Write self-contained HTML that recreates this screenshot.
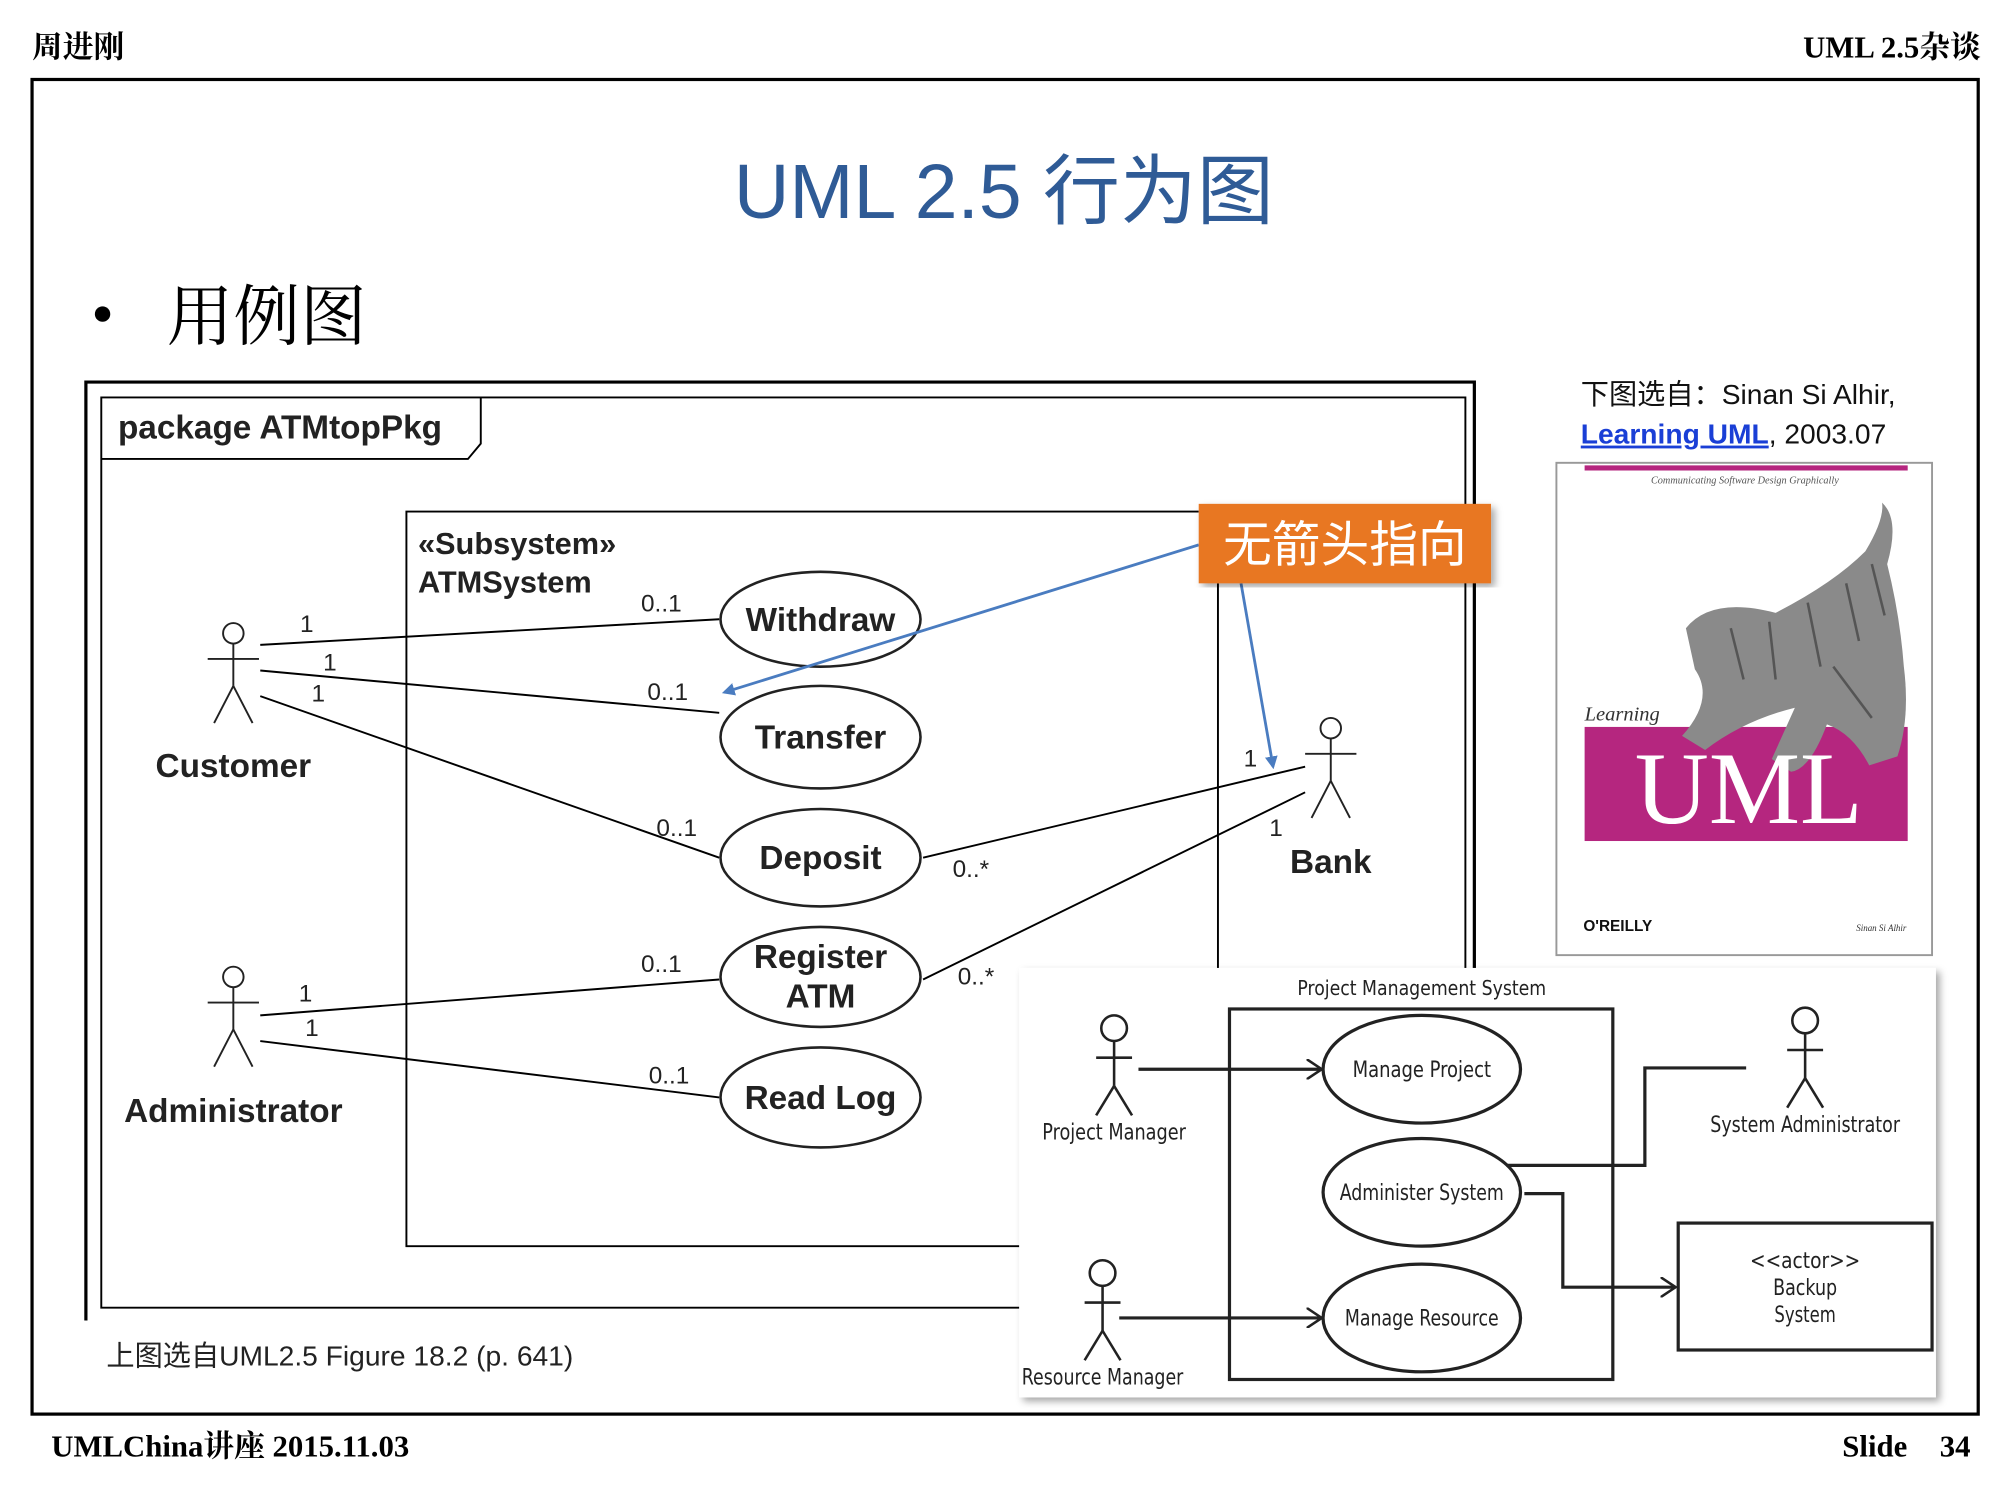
<!DOCTYPE html>
<html><head><meta charset="utf-8"><style>html,body{margin:0;padding:0;background:#fff}svg{display:block}</style></head>
<body>
<svg width="2000" height="1500" viewBox="0 0 1560 1170" xmlns="http://www.w3.org/2000/svg" font-family="Liberation Sans, Noto Sans CJK SC, sans-serif">
<defs>
<marker id="ba" markerWidth="10" markerHeight="10" refX="8" refY="5" orient="auto" markerUnits="userSpaceOnUse"><path d="M0,0 L10,5 L0,10 Z" fill="#4a7cc0"/></marker>
<marker id="oa" markerWidth="14" markerHeight="16" refX="12" refY="8" orient="auto" markerUnits="userSpaceOnUse"><path d="M0,0 L12,8 L0,16" fill="none" stroke="#222" stroke-width="2"/></marker>
<filter id="sh" x="-5%" y="-5%" width="110%" height="110%"><feDropShadow dx="3" dy="3" stdDeviation="3" flood-color="#000" flood-opacity="0.35"/></filter>
</defs>
<g font-family="Liberation Serif, Noto Serif CJK SC, serif" font-weight="bold" font-size="24" fill="#000">
<text x="25" y="45">周进刚</text>
<text x="1545" y="45" text-anchor="end">UML 2.5杂谈</text>
<text x="40" y="1136">UMLChina讲座 2015.11.03</text>
<text x="1437" y="1136">Slide</text>
<text x="1537" y="1136" text-anchor="end">34</text>
</g>
<rect x="25" y="62" width="1518" height="1041" fill="none" stroke="#000" stroke-width="2.5"/>
<text x="783" y="170" text-anchor="middle" font-size="60" fill="#2f5b96">UML 2.5 行为图</text>
<circle cx="80" cy="245" r="6" fill="#000"/>
<text x="130" y="265" font-size="52" font-family="Liberation Serif, Noto Serif CJK SC, serif">用例图</text>

<path d="M67,1030 L67,298 L1150,298 L1150,755" fill="none" stroke="#000" stroke-width="2.5"/>
<path d="M795,1020 L79,1020 L79,310 L1143,310 L1143,755" fill="none" stroke="#000" stroke-width="1.5"/>
<path d="M79,358 L365,358 L375,346 L375,310" fill="none" stroke="#000" stroke-width="1.5"/>
<text x="92" y="342" font-size="26" font-weight="bold" fill="#222">package ATMtopPkg</text>
<path d="M935,399 L317,399 L317,972 L795,972" fill="none" stroke="#000" stroke-width="1.5"/>
<line x1="950" y1="455" x2="950" y2="755" stroke="#000" stroke-width="1.5"/>
<text x="326" y="432" font-size="24" font-weight="bold" fill="#222">«Subsystem»</text>
<text x="326" y="462" font-size="24" font-weight="bold" fill="#222">ATMSystem</text>

<g fill="none" stroke="#000" stroke-width="1.5">
<line x1="203" y1="503" x2="561" y2="483"/>
<line x1="203" y1="523" x2="561" y2="556"/>
<line x1="203" y1="543" x2="561" y2="669"/>
<line x1="203" y1="792" x2="561" y2="764"/>
<line x1="203" y1="812" x2="561" y2="856"/>
<line x1="720" y1="669" x2="1018" y2="598"/>
<line x1="720" y1="764" x2="1018" y2="618"/>
</g>
<g fill="#fff" stroke="#222" stroke-width="2"><ellipse cx="640" cy="483" rx="78" ry="37"/><ellipse cx="640" cy="575" rx="78" ry="40"/><ellipse cx="640" cy="669" rx="78" ry="38"/><ellipse cx="640" cy="762" rx="78" ry="39"/><ellipse cx="640" cy="856" rx="78" ry="39"/></g>
<g font-size="26" font-weight="bold" text-anchor="middle" fill="#222">
<text x="640" y="492">Withdraw</text>
<text x="640" y="584">Transfer</text>
<text x="640" y="678">Deposit</text>
<text x="640" y="755">Register</text>
<text x="640" y="786">ATM</text>
<text x="640" y="865">Read Log</text>
<text x="182" y="606">Customer</text>
<text x="182" y="875">Administrator</text>
<text x="1038" y="681">Bank</text>
</g>
<g font-size="19" fill="#222">
<text x="234" y="493">1</text><text x="252" y="523">1</text><text x="243" y="547">1</text>
<text x="500" y="477">0..1</text><text x="505" y="546">0..1</text><text x="512" y="652">0..1</text>
<text x="500" y="758">0..1</text><text x="506" y="845">0..1</text>
<text x="233" y="781">1</text><text x="238" y="808">1</text>
<text x="743" y="684">0..*</text><text x="747" y="768">0..*</text>
<text x="970" y="598">1</text><text x="990" y="652">1</text>
</g>
<g fill="none" stroke="#222" stroke-width="1.5">
<g transform="translate(182,490)"><circle cx="0" cy="4" r="8"/><line x1="0" y1="12" x2="0" y2="45"/><line x1="-20" y1="24" x2="20" y2="24"/><line x1="0" y1="45" x2="-15" y2="74"/><line x1="0" y1="45" x2="15" y2="74"/></g>
<g transform="translate(182,758)"><circle cx="0" cy="4" r="8"/><line x1="0" y1="12" x2="0" y2="45"/><line x1="-20" y1="24" x2="20" y2="24"/><line x1="0" y1="45" x2="-15" y2="74"/><line x1="0" y1="45" x2="15" y2="74"/></g>
<g transform="translate(1038,564)"><circle cx="0" cy="4" r="8"/><line x1="0" y1="12" x2="0" y2="45"/><line x1="-20" y1="24" x2="20" y2="24"/><line x1="0" y1="45" x2="-15" y2="74"/><line x1="0" y1="45" x2="15" y2="74"/></g>
</g>
<line x1="935" y1="425" x2="565" y2="540" stroke="#4a7cc0" stroke-width="2.2" marker-end="url(#ba)"/>
<line x1="968" y1="455" x2="993" y2="598" stroke="#4a7cc0" stroke-width="2.2" marker-end="url(#ba)"/>
<rect x="935" y="393" width="228" height="62" fill="#e87722" filter="url(#sh)"/>
<text x="1049" y="438" text-anchor="middle" font-size="38" fill="#fff">无箭头指向</text>

<text x="83" y="1065" font-size="22" fill="#222">上图选自UML2.5 Figure 18.2 (p. 641)</text>
<text x="1233" y="315" font-size="22" fill="#111">下图选自：Sinan Si Alhir,</text>
<text x="1233" y="346" font-size="22" fill="#111"><tspan fill="#1a3fd6" font-weight="bold" text-decoration="underline">Learning UML</tspan>, 2003.07</text>

<rect x="1214" y="361" width="293" height="384" fill="#fff" stroke="#999" stroke-width="1.5"/>
<rect x="1236" y="363" width="252" height="4" fill="#b5267f"/>
<text x="1361" y="377" text-anchor="middle" font-size="8" font-style="italic" font-family="Liberation Serif, serif" fill="#555">Communicating Software Design Graphically</text>
<rect x="1236" y="567" width="252" height="89" fill="#b5267f"/>
<path d="M1315,490 Q1335,465 1385,478 Q1430,455 1455,430 Q1470,405 1468,392 Q1482,405 1472,440 Q1482,480 1485,520 Q1490,560 1480,590 L1458,597 Q1445,572 1425,565 Q1412,600 1397,602 L1382,592 L1400,552 Q1360,562 1330,585 L1312,574 Q1338,545 1322,522 Z" fill="#8a8a8a"/>
<g stroke="#333" stroke-width="2" fill="none" opacity="0.6">
<path d="M1350,490 L1360,530"/><path d="M1380,485 L1385,530"/><path d="M1410,470 L1420,520"/><path d="M1440,455 L1450,500"/><path d="M1460,440 L1470,480"/><path d="M1430,520 L1460,560"/>
</g>
<text x="1236" y="562" font-size="16" font-style="italic" font-family="Liberation Serif, serif" fill="#333">Learning</text>
<text x="1364" y="642" text-anchor="middle" font-size="80" font-family="Liberation Serif, serif" fill="#fff">UML</text>
<text x="1235" y="726" font-size="12" font-weight="bold" fill="#111">O'REILLY</text>
<text x="1487" y="726" text-anchor="end" font-size="7" font-style="italic" font-family="Liberation Serif, serif" fill="#333">Sinan Si Alhir</text>

<rect x="795" y="755" width="715" height="335" fill="#fff" filter="url(#sh)"/>
<g font-family="DejaVu Sans Condensed, Liberation Sans Narrow, Liberation Sans, sans-serif" font-size="16" fill="#222" text-anchor="middle">
<text x="1109" y="776" textLength="194" lengthAdjust="spacingAndGlyphs">Project Management System</text>
</g>
<g fill="none" stroke="#222" stroke-width="2.5">
<rect x="959" y="787" width="299" height="289"/>
<rect x="1309" y="954" width="198" height="99"/>
</g>
<g fill="#fff" stroke="#222" stroke-width="2.5">
<ellipse cx="1109" cy="834" rx="77" ry="42"/>
<ellipse cx="1109" cy="930" rx="77" ry="42"/>
<ellipse cx="1109" cy="1028" rx="77" ry="42"/>
</g>
<g fill="none" stroke="#222" stroke-width="2.5">
<line x1="888" y1="834" x2="1031" y2="834" marker-end="url(#oa)"/>
<line x1="873" y1="1028" x2="1031" y2="1028" marker-end="url(#oa)"/>
<path d="M1175,909 L1283,909 L1283,833 L1362,833"/>
<path d="M1189,931 L1219,931 L1219,1004 L1307,1004" marker-end="url(#oa)"/>
</g>
<g fill="none" stroke="#222" stroke-width="2">
<g transform="translate(869,792)"><circle cx="0" cy="10" r="10"/><line x1="0" y1="20" x2="0" y2="55"/><line x1="-14" y1="33" x2="14" y2="33"/><line x1="0" y1="55" x2="-14" y2="78"/><line x1="0" y1="55" x2="14" y2="78"/></g>
<g transform="translate(860,983)"><circle cx="0" cy="10" r="10"/><line x1="0" y1="20" x2="0" y2="55"/><line x1="-14" y1="33" x2="14" y2="33"/><line x1="0" y1="55" x2="-14" y2="78"/><line x1="0" y1="55" x2="14" y2="78"/></g>
<g transform="translate(1408,786)"><circle cx="0" cy="10" r="10"/><line x1="0" y1="20" x2="0" y2="55"/><line x1="-14" y1="33" x2="14" y2="33"/><line x1="0" y1="55" x2="-14" y2="78"/><line x1="0" y1="55" x2="14" y2="78"/></g>
</g>
<g font-family="DejaVu Sans Condensed, Liberation Sans Narrow, Liberation Sans, sans-serif" font-size="17" fill="#222" text-anchor="middle">
<text x="1109" y="840" textLength="108" lengthAdjust="spacingAndGlyphs">Manage Project</text>
<text x="1109" y="936" textLength="128" lengthAdjust="spacingAndGlyphs">Administer System</text>
<text x="1109" y="1034" textLength="120" lengthAdjust="spacingAndGlyphs">Manage Resource</text>
<text x="869" y="889" textLength="112" lengthAdjust="spacingAndGlyphs">Project Manager</text>
<text x="860" y="1080" textLength="126" lengthAdjust="spacingAndGlyphs">Resource Manager</text>
<text x="1408" y="883" textLength="148" lengthAdjust="spacingAndGlyphs">System Administrator</text>
<text x="1408" y="989" textLength="86" lengthAdjust="spacingAndGlyphs">&lt;&lt;actor&gt;&gt;</text>
<text x="1408" y="1010" textLength="50" lengthAdjust="spacingAndGlyphs">Backup</text>
<text x="1408" y="1031" textLength="48" lengthAdjust="spacingAndGlyphs">System</text>
</g>
</svg>
</body></html>
